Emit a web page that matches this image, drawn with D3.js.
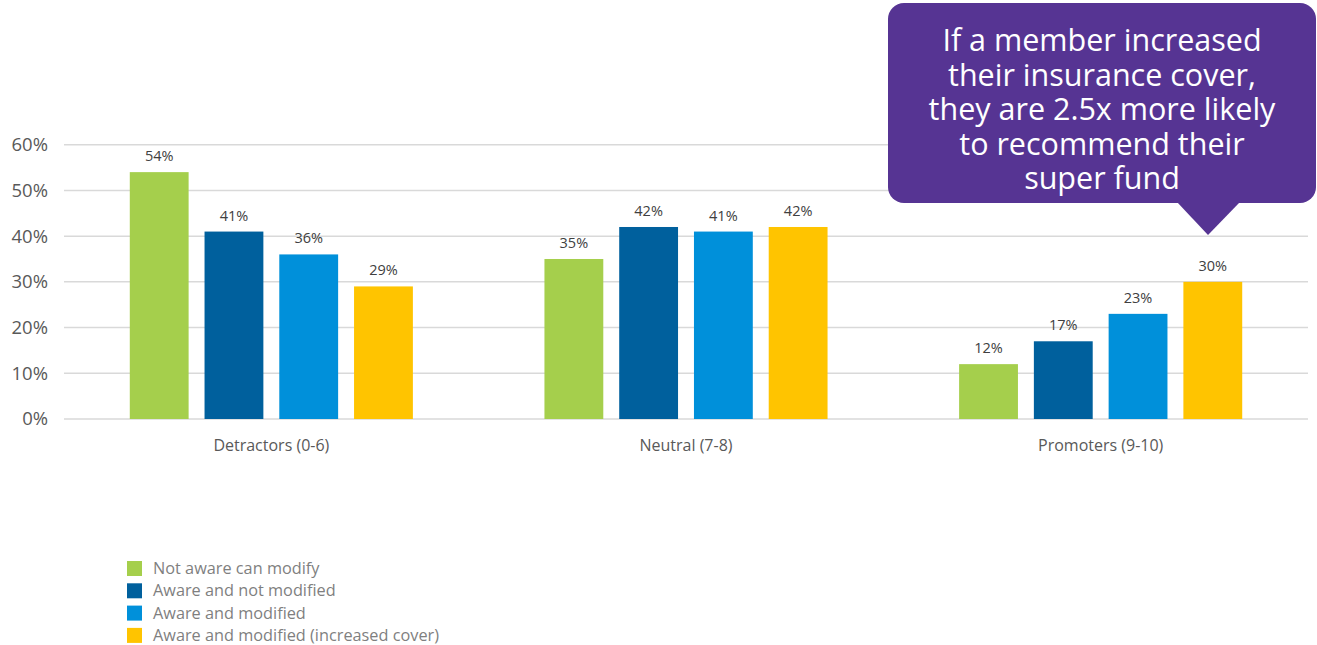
<!DOCTYPE html>
<html><head><meta charset="utf-8">
<script src="https://cdn.jsdelivr.net/npm/d3@7"></script>
<style>
html,body{margin:0;padding:0;background:#fff;}
svg{display:block;font-family:"Open Sans","Noto Sans",sans-serif;}
</style></head>
<body>
<svg id="chart" width="1317" height="645"></svg>
<script>
const categories = ["Detractors (0-6)", "Neutral (7-8)", "Promoters (9-10)"];
const seriesNames = ["Not aware can modify", "Aware and not modified", "Aware and modified", "Aware and modified (increased cover)"];
const seriesColors = ["#a5cf4c", "#00609d", "#0090da", "#ffc400"];
const notAwareCanModify = [54, 35, 12];
const awareNotModified = [41, 42, 17];
const awareModified = [36, 41, 23];
const awareModifiedIncreased = [29, 42, 30];
const yTicks = [0, 10, 20, 30, 40, 50, 60];
const calloutLines = ["If a member increased", "their insurance cover,", "they are 2.5x more likely", "to recommend their", "super fund"];

const FONT = "'Open Sans','Noto Sans',sans-serif";
const seriesValues = [notAwareCanModify, awareNotModified, awareModified, awareModifiedIncreased];
const svg = d3.select("#chart");

const x0 = d3.scaleBand().domain(categories).range([64, 1308]).padding(0);
const x1 = d3.scaleBand().domain(d3.range(4)).range([0, x0.bandwidth()]).paddingInner(0.213).paddingOuter(0.88);
const y = d3.scaleLinear().domain([0, 60]).range([419, 144.7]);

// gridlines
svg.append("g").selectAll("line").data(yTicks).join("line")
  .attr("x1", 64).attr("x2", 1308)
  .attr("y1", d => y(d)).attr("y2", d => y(d))
  .attr("stroke", "#d9d9d9").attr("stroke-width", 1.5);

// y axis labels
const yAxis = d3.axisLeft(y).tickValues(yTicks).tickFormat(d => d + "%").tickSize(0).tickPadding(0);
const ya = svg.append("g").attr("transform", "translate(48,0)").call(yAxis);
ya.select(".domain").remove();
ya.selectAll("text").attr("font-size", 18.5).attr("fill", "#595959").attr("font-family", FONT);

// x axis labels
const xAxis = d3.axisBottom(x0).tickSize(0).tickPadding(0);
const xa = svg.append("g").attr("transform", "translate(0,440)").call(xAxis);
xa.select(".domain").remove();
xa.selectAll("text").attr("font-size", 16).attr("fill", "#595959").attr("font-family", FONT);

// bars
const groups = svg.append("g").selectAll("g").data(categories).join("g")
  .attr("transform", d => `translate(${x0(d)},0)`);
groups.each(function(cat, ci) {
  const g = d3.select(this);
  const vals = seriesValues.map((s, si) => ({si, v: s[ci]}));
  g.selectAll("rect").data(vals).join("rect")
    .attr("x", d => x1(d.si)).attr("width", x1.bandwidth())
    .attr("y", d => y(d.v)).attr("height", d => y(0) - y(d.v))
    .attr("fill", d => seriesColors[d.si]);
  g.selectAll("text").data(vals).join("text")
    .attr("x", d => x1(d.si) + x1.bandwidth() / 2)
    .attr("y", d => y(d.v) - 11)
    .attr("text-anchor", "middle")
    .attr("font-size", 14.5).attr("fill", "#404040")
    .text(d => d.v + "%");
});

// legend
const lg = svg.append("g").selectAll("g").data(seriesNames).join("g")
  .attr("transform", (d, i) => `translate(127,${561 + i * 22.3})`);
lg.append("rect").attr("width", 15).attr("height", 15).attr("fill", (d, i) => seriesColors[i]);
lg.append("text").attr("x", 26).attr("y", 13).attr("font-size", 16.3).attr("fill", "#7f7f7f").text(d => d);

// callout
const cg = svg.append("g");
cg.append("rect").attr("x", 888).attr("y", 3).attr("width", 428).attr("height", 200).attr("rx", 16)
  .attr("fill", "#563493");
cg.append("path").attr("d", "M1177,202 L1240,202 L1208,235 Z").attr("fill", "#563493");
const ct = cg.append("text").attr("text-anchor", "middle").attr("font-size", 30.5).attr("fill", "#ffffff");
ct.selectAll("tspan").data(calloutLines).join("tspan")
  .attr("x", 1102).attr("y", (d, i) => 51 + i * 34.5)
  .text(d => d);
</script>
</body></html>
